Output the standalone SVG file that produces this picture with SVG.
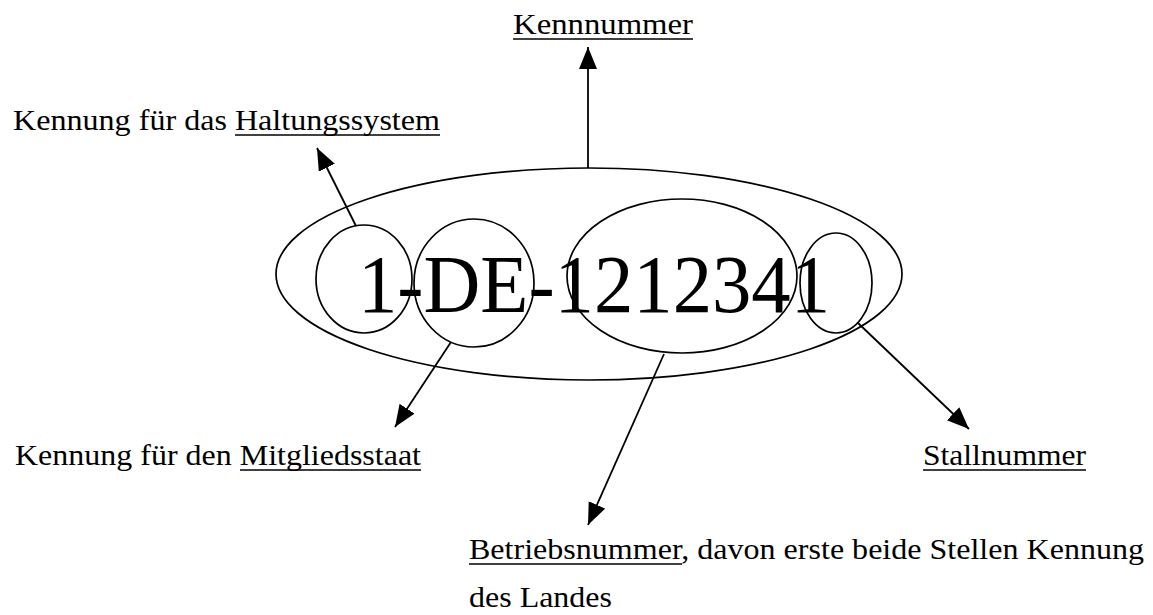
<svg xmlns="http://www.w3.org/2000/svg" width="1153" height="615" viewBox="0 0 1153 615">
<defs>
<style>
.shape{fill:none;stroke:#000;stroke-width:1.7}
.conn{fill:none;stroke:#000;stroke-width:1.8}
.lbl{font-family:"Liberation Serif","Times New Roman",serif;font-size:29px;fill:#000}
.big{font-family:"Liberation Serif","Times New Roman",serif;font-size:82px;fill:#000}
.ul{stroke:#000;stroke-width:1.5}
</style>
<marker id="ah" markerUnits="userSpaceOnUse" markerWidth="24" markerHeight="20" refX="22" refY="9" orient="auto">
<path d="M0,0 L22,9 L0,18 Z" fill="#000"/>
</marker>
</defs>
<rect width="1153" height="615" fill="#fff"/>
<g id="number">
<ellipse class="shape" cx="589" cy="274" rx="313" ry="106"/>
<text class="big" x="358" y="312" textLength="472" lengthAdjust="spacingAndGlyphs">1-DE-1212341</text>
</g>
<g id="part-haltung"><ellipse class="shape" cx="364" cy="279" rx="48" ry="54"/></g>
<g id="part-staat"><ellipse class="shape" cx="474" cy="283" rx="60" ry="64"/></g>
<g id="part-betrieb"><ellipse class="shape" cx="682" cy="276" rx="115" ry="77"/></g>
<g id="part-stall"><ellipse class="shape" cx="836" cy="283" rx="36" ry="50"/></g>
<g id="connectors">
<line class="conn" x1="588" y1="168" x2="588" y2="47" marker-end="url(#ah)"/>
<line class="conn" x1="356" y1="226" x2="317" y2="148" marker-end="url(#ah)"/>
<line class="conn" x1="451" y1="342" x2="395" y2="427" marker-end="url(#ah)"/>
<line class="conn" x1="664" y1="354" x2="588" y2="525" marker-end="url(#ah)"/>
<line class="conn" x1="858" y1="323" x2="969" y2="429" marker-end="url(#ah)"/>
</g>
<g id="label-kennnummer">
<text class="lbl" x="513" y="34" textLength="180" lengthAdjust="spacingAndGlyphs">Kennnummer</text>
<line class="ul" x1="513" y1="39" x2="693" y2="39"/>
</g>
<g id="label-haltung">
<text class="lbl" x="13" y="130" textLength="427" lengthAdjust="spacingAndGlyphs">Kennung für das Haltungssystem</text>
<line class="ul" x1="235" y1="135" x2="440" y2="135"/>
</g>
<g id="label-staat">
<text class="lbl" x="15" y="465" textLength="406" lengthAdjust="spacingAndGlyphs">Kennung für den Mitgliedsstaat</text>
<line class="ul" x1="240" y1="470" x2="421" y2="470"/>
</g>
<g id="label-stall">
<text class="lbl" x="923" y="465" textLength="163" lengthAdjust="spacingAndGlyphs">Stallnummer</text>
<line class="ul" x1="923" y1="470" x2="1086" y2="470"/>
</g>
<g id="label-betrieb">
<text class="lbl" x="469" y="559" textLength="675" lengthAdjust="spacingAndGlyphs">Betriebsnummer, davon erste beide Stellen Kennung</text>
<line class="ul" x1="469" y1="564" x2="682" y2="564"/>
<text class="lbl" x="469" y="607" textLength="143" lengthAdjust="spacingAndGlyphs">des Landes</text>
</g>
</svg>
